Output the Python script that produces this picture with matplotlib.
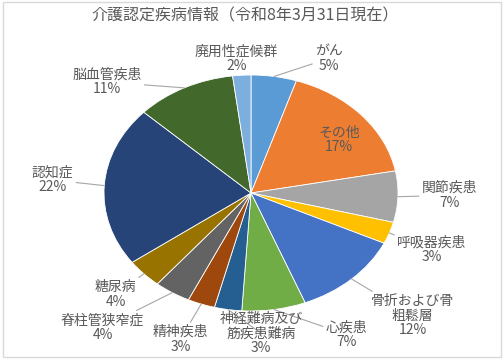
import numpy as np
import matplotlib.pyplot as plt
from matplotlib.patches import Rectangle

plt.rcParams['font.family'] = ['Noto Sans CJK JP', 'DejaVu Sans']

title = '介護認定疾病情報（令和8年3月31日現在）'
names = ['がん', 'その他', '関節疾患', '呼吸器疾患', '骨折および骨\n粗鬆層', '心疾患',
         '神経難病及び\n筋疾患難病', '精神疾患', '脊柱管狭窄症', '糖尿病', '認知症',
         '脳血管疾患', '廃用性症候群']
shares = [5, 17, 7, 3, 12, 7, 3, 3, 4, 4, 22, 11, 2]
colors = ['#5B9BD5', '#ED7D31', '#A5A5A5', '#FFC000', '#4472C4', '#70AD47',
          '#255E91', '#9E480E', '#636363', '#997300', '#264478', '#43682B', '#7CAFDD']

# label centres (axes data units, pie radius = 1) and whether a leader line is drawn
label_pos = [(0.53, 1.14), (0.60, 0.45), (1.35, -0.02), (1.23, -0.48), (1.10, -1.04),
             (0.65, -1.20), (0.07, -1.19), (-0.48, -1.24), (-1.01, -1.14), (-0.92, -0.86),
             (-1.35, 0.11), (-0.98, 0.94), (-0.10, 1.14)]
leader = [True, False, True, True, True, True, True, True, True, True, True, True, False]

fig = plt.figure(figsize=(5.04, 3.6), dpi=100)
fig.patches.append(Rectangle((0.006, 0.008), 0.988, 0.986, transform=fig.transFigure,
                             fill=False, edgecolor='#d9d9d9', lw=1.0))

# pie is stretched horizontally in the reference, so use non-equal aspect
ax = fig.add_axes([(251 - 147) / 504, 49 / 360, 294 / 504, 236 / 360])
wedges, _ = ax.pie(shares, colors=colors, startangle=90, counterclock=False,
                   wedgeprops=dict(edgecolor='white', linewidth=0.6))
ax.set_aspect('auto')
ax.set_xlim(-1, 1)
ax.set_ylim(-1, 1)

total = sum(shares)
cum = np.cumsum([0] + shares)
for i, name in enumerate(names):
    mid = 90 - 360 * (cum[i] + shares[i] / 2) / total
    edge = (np.cos(np.radians(mid)), np.sin(np.radians(mid)))
    txt = f'{name}\n{shares[i]}%'
    if leader[i]:
        ax.annotate(txt, xy=edge, xytext=label_pos[i], ha='center', va='center',
                    fontsize=10, color='#595959', linespacing=1.05,
                    arrowprops=dict(arrowstyle='-', color='#a6a6a6', lw=0.8,
                                    shrinkA=0, shrinkB=0))
    else:
        ax.text(label_pos[i][0], label_pos[i][1], txt, ha='center', va='center',
                fontsize=10, color='#595959', linespacing=1.05)

fig.text(0.487, 0.955, title, ha='center', va='center', fontsize=11.5, color='#595959')

fig.savefig('out.png', dpi=100)
